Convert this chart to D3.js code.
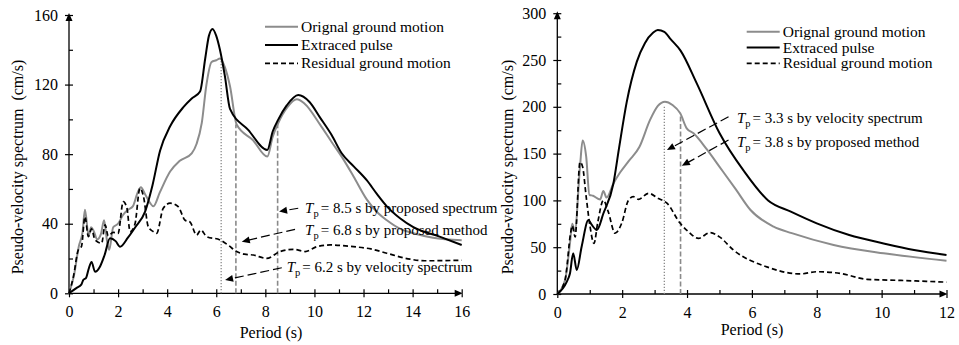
<!DOCTYPE html>
<html>
<head>
<meta charset="utf-8">
<script src="https://cdn.jsdelivr.net/npm/d3@7"></script>
</head>
<body style="margin:0">
<svg id="chart" width="959" height="345"></svg>
<script>
/************************* Data *************************/
const legendLabels = ["Orignal ground motion", "Extraced pulse", "Residual ground motion"];

// left panel: [period (s), PSV (cm/s)]
const leftOriginal = [[0,0],[0.2,10],[0.4,27],[0.55,35],[0.65,48],[0.8,33],[0.9,38],[1.0,36],[1.15,31],[1.3,34],[1.43,42],
  [1.55,30],[1.64,25],[1.8,38],[2.0,40],[2.2,45],[2.4,48],[2.6,50],[2.8,58],[2.93,61],[3.1,57],[3.3,52],[3.44,50],[3.7,58],
  [4.12,70],[4.5,76],[5.0,80.5],[5.2,86],[5.41,98],[5.6,120],[5.81,133],[6.0,134],[6.15,135],[6.35,130],[6.56,119],[6.83,97],
  [7.5,88],[8.08,78.6],[8.3,90],[8.53,98],[8.9,107],[9.28,111.5],[9.6,109],[10.23,97],[10.7,87],[11.18,77],[11.6,67],
  [12.13,54],[12.6,46],[12.95,42],[13.5,37],[14.03,34.5],[14.83,32],[16,30.5]];
const leftPulse = [[0,0],[0.3,3],[0.5,5],[0.58,7.6],[0.7,9],[0.8,14],[0.92,18],[1.06,12.4],[1.26,15.3],[1.45,22],[1.67,31.6],
  [1.9,30],[2.08,26.8],[2.4,32],[2.7,38],[3.1,47],[3.4,62],[3.71,82],[4.12,96],[4.66,107],[5.0,112],[5.34,116],[5.55,135],
  [5.7,148],[5.85,152],[6.0,148],[6.15,140],[6.35,125],[6.56,106],[7.3,94],[8.08,82.4],[8.3,93],[8.53,100],[8.87,108],
  [9.34,114],[9.8,110],[10.23,101],[10.7,91],[11.11,80.5],[11.6,73],[12.13,65],[12.55,57],[12.95,50],[13.5,43],[14.03,38],
  [15.1,32.6],[16,27.8]];
const leftResidual = [[0,0],[0.18,9.6],[0.38,25],[0.51,27],[0.65,44],[0.79,32.6],[0.92,37],[1.06,30.7],[1.33,28.8],[1.47,39.3],
  [1.6,33],[1.8,35],[2.0,34.5],[2.21,52.7],[2.36,49],[2.49,35.4],[2.69,40],[2.89,60.4],[3.03,56],[3.23,38.3],[3.44,35.4],
  [3.57,34.5],[3.84,48.9],[4.12,51.8],[4.45,49.8],[4.73,42],[4.93,41],[5.2,33.5],[5.37,36.4],[5.61,32.6],[6.15,30.7],
  [6.5,27.5],[6.83,24],[7.15,22.5],[7.51,22],[8.05,20.1],[8.6,24],[9.14,25.3],[9.62,24],[10.1,26.8],[10.64,27.8],
  [11.59,26.8],[12.3,25.5],[12.95,23],[13.9,19.6],[14.5,18.7],[16,19]];

// right panel
const rightOriginal = [[0,0],[0.24,15],[0.39,54],[0.46,75],[0.54,67],[0.7,136],[0.78,164],[0.89,147],[0.99,106],[1.1,105],
  [1.32,101],[1.42,110],[1.52,103],[1.73,118],[1.94,130],[2.2,142],[2.53,157],[2.86,186],[3.1,201],[3.32,205.5],[3.55,202],
  [3.79,193],[3.99,177],[4.2,171.7],[4.6,155],[5.02,135],[5.5,112],[5.95,90],[6.67,72],[7.23,65],[8.52,52.4],[10.06,43.5],
  [12,35.6]];
const rightPulse = [[0,0],[0.29,13],[0.39,22],[0.49,43.5],[0.6,25.6],[0.75,50.5],[0.96,79],[1.06,74],[1.22,68.4],[1.42,86],
  [1.73,118],[1.9,155],[2.14,205],[2.45,248],[2.7,268],[2.95,279],[3.1,282],[3.3,280],[3.5,272],[3.8,260],[4.3,225],
  [5.0,172],[5.74,132],[6.5,100],[7.2,88],[8.0,75.5],[9.0,63],[10.06,54],[11,47],[12,41.7]];
const rightResidual = [[0,0],[0.24,15],[0.41,65],[0.46,73],[0.55,61],[0.7,141],[0.78,136],[0.89,104],[1.01,72],[1.13,54],
  [1.25,77],[1.42,100],[1.57,88],[1.78,65],[1.99,76],[2.19,100],[2.34,104],[2.5,101],[2.81,107.6],[3.12,102],[3.38,97],
  [3.79,75.5],[4.04,66.6],[4.35,59.5],[4.71,65.5],[5.0,61],[5.43,47],[6.46,29],[7.49,21.4],[8.0,23.8],[8.73,22],
  [9.55,15.7],[10.6,14.5],[12,12.7]];

// pulse period markers: [Tp, top of line, kind]
const leftMarkers  = [[6.2, 135, "dotted"], [6.8, 97, "dashed"], [8.5, 97.5, "dashed"]];
const rightMarkers = [[3.3, 201, "dotted"], [3.8, 191, "dashed"]];

// annotation texts
const leftNotes  = ["= 8.5 s by proposed spectrum", "= 6.8 s by proposed method", "= 6.2 s by velocity spectrum"];
const rightNotes = ["= 3.3 s by velocity spectrum", "= 3.8 s by proposed method"];

// ticks
const leftXTicks  = d3.range(0, 17, 2);
const leftYTicks  = [0, 40, 80, 120, 160];
const rightXTicks = d3.range(0, 13, 2);
const rightYTicks = [0, 50, 100, 150, 200, 250, 300];

/************************* Layout *************************/
const FONT = "Liberation Serif";
const GRAY = "#8c8c8c";
const SERIES_STYLE = [
  {stroke: GRAY,   width: 2,   dash: null},
  {stroke: "#000", width: 2,   dash: null},
  {stroke: "#000", width: 1.7, dash: "5,3"}
];

const panels = [
  {
    xr: [69, 461.7], yr: [293.3, 15], xMax: 16, yMax: 160, yMinor: 20,
    xTicks: leftXTicks, yTicks: leftYTicks,
    series: [leftOriginal, leftPulse, leftResidual],
    markers: leftMarkers,
    titleX: 17, xTitleX: 271, xTitleY: 338,
    legend: {x: 265, y: 26.7, dy: 18.3},
    // text anchor (data), arrow start (data), arrow tip (data)
    notes: leftNotes.map((t, i) => ({text: t, ...[
      {tx: 9.62, ty: 46.2, ax: 9.34, ay: 48.9, bx: 8.56, by: 47},
      {tx: 9.62, ty: 33.4, ax: 9.21, ay: 36.8, bx: 7.04, by: 29.7},
      {tx: 8.87, ty: 12.3, ax: 8.67, ay: 14.7, bx: 6.36, by: 7.6}
    ][i]}))
  },
  {
    xr: [557.3, 946.5], yr: [294, 13.2], xMax: 12, yMax: 300, yMinor: 25,
    xTicks: rightXTicks, yTicks: rightYTicks,
    series: [rightOriginal, rightPulse, rightResidual],
    markers: rightMarkers,
    titleX: 507, xTitleX: 752, xTitleY: 335,
    legend: {x: 746.7, y: 31.7, dy: 15.8},
    notes: rightNotes.map((t, i) => ({text: t, ...[
      {tx: 5.54, ty: 182.4, ax: 5.28, ay: 189.4, bx: 3.38, by: 153.8},
      {tx: 5.54, ty: 157.4, ax: 5.28, ay: 164.5, bx: 3.84, by: 137}
    ][i]}))
  }
];

/************************* Drawing *************************/
const svg = d3.select("#chart");
panels.forEach(p => drawPanel(p));

/** filled triangle with its tip at (x, y), pointing along (dx, dy) */
function arrowHead(g, x, y, dx, dy, len, half) {
  const n = Math.hypot(dx, dy), ux = dx / n, uy = dy / n;
  const bx = x - ux * len, by = y - uy * len;
  g.append("path")
    .attr("d", `M${x},${y}L${bx - uy * half},${by + ux * half}L${bx + uy * half},${by - ux * half}Z`)
    .attr("fill", "#000");
}

function addText(g, x, y, size, str) {
  return g.append("text")
    .attr("x", x).attr("y", y)
    .attr("font-family", FONT).attr("font-size", size)
    .attr("fill", "#000")
    .text(str);
}

function drawPanel(p) {
  const x = d3.scaleLinear().domain([0, p.xMax]).range(p.xr);
  const y = d3.scaleLinear().domain([0, p.yMax]).range(p.yr);
  const g = svg.append("g");
  const y0 = p.yr[0], x0 = p.xr[0];

  // major ticks crossing the axes, minor ticks on the inside
  const crossX = s => d3.axisBottom(x).tickValues(p.xTicks).tickSize(s).tickFormat("");
  g.append("g").attr("transform", `translate(0,${y0})`).call(crossX(4));
  g.append("g").attr("transform", `translate(0,${y0})`).call(crossX(-4));
  g.append("g").attr("transform", `translate(0,${y0})`)
    .call(d3.axisBottom(x).tickValues(d3.range(1, p.xMax, 2)).tickSize(-4).tickFormat(""));
  g.append("g").attr("transform", `translate(0,${y0})`)
    .call(d3.axisBottom(x).tickValues(p.xTicks).tickSize(0).tickPadding(12.5));

  const crossY = s => d3.axisLeft(y).tickValues(p.yTicks).tickSize(s).tickFormat("");
  g.append("g").attr("transform", `translate(${x0},0)`).call(crossY(4));
  g.append("g").attr("transform", `translate(${x0},0)`).call(crossY(-4));
  g.append("g").attr("transform", `translate(${x0},0)`)
    .call(d3.axisLeft(y).tickValues(d3.range(p.yMinor, p.yMax, p.yMinor * 2)).tickSize(-4).tickFormat(""));
  g.append("g").attr("transform", `translate(${x0},0)`)
    .call(d3.axisLeft(y).tickValues(p.yTicks).tickSize(0).tickPadding(11));

  g.selectAll(".domain").remove();
  g.selectAll("g").attr("font-family", FONT).attr("font-size", 16);
  g.selectAll(".tick line").attr("stroke", "#000").attr("stroke-width", 1.2);
  g.selectAll(".tick text")
    .attr("font-family", FONT).attr("font-size", 16).attr("fill", "#000");

  // axis lines with arrow heads
  g.append("line").attr("x1", x0).attr("y1", y0).attr("x2", p.xr[1] - 4).attr("y2", y0)
    .attr("stroke", "#000").attr("stroke-width", 1.3);
  arrowHead(g, p.xr[1] + 1, y0, 1, 0, 8, 3.5);
  g.append("line").attr("x1", x0).attr("y1", y0).attr("x2", x0).attr("y2", p.yr[1] + 4)
    .attr("stroke", "#000").attr("stroke-width", 1.3);
  arrowHead(g, x0, p.yr[1] - 2, 0, -1, 8, 3.5);

  // axis titles
  addText(g, 0, 0, 16, "Pseudo-velocity spectrum  (cm/s)")
    .attr("transform", `translate(${p.titleX},167) rotate(-90)`)
    .attr("text-anchor", "middle").attr("dominant-baseline", "central")
    .attr("xml:space", "preserve");
  addText(g, p.xTitleX, p.xTitleY, 16, "Period (s)")
    .attr("text-anchor", "middle");

  // Tp marker lines
  g.selectAll(".marker").data(p.markers).join("line")
    .attr("x1", d => x(d[0])).attr("x2", d => x(d[0]))
    .attr("y1", y(0)).attr("y2", d => y(d[1]))
    .attr("stroke", "#8a8a8a")
    .attr("stroke-width", d => d[2] === "dotted" ? 1.3 : 1.6)
    .attr("stroke-dasharray", d => d[2] === "dotted" ? "1.2,1.8" : "5,2.5");

  // series
  const line = d3.line().x(d => x(d[0])).y(d => y(d[1])).curve(d3.curveMonotoneX);
  p.series.forEach((s, i) => {
    const st = SERIES_STYLE[i];
    g.append("path").datum(s)
      .attr("d", line)
      .attr("fill", "none")
      .attr("stroke", st.stroke)
      .attr("stroke-width", st.width)
      .attr("stroke-dasharray", st.dash)
      .attr("stroke-linejoin", "round");
  });

  // legend
  const lg = g.append("g");
  legendLabels.forEach((label, i) => {
    const st = SERIES_STYLE[i];
    const ly = p.legend.y + i * p.legend.dy;
    lg.append("line")
      .attr("x1", p.legend.x).attr("x2", p.legend.x + 33)
      .attr("y1", ly).attr("y2", ly)
      .attr("stroke", st.stroke).attr("stroke-width", st.width)
      .attr("stroke-dasharray", st.dash);
    addText(lg, p.legend.x + 36, ly + 5, 15.5, label);
  });

  // annotations
  p.notes.forEach(n => {
    const ax = x(n.ax), ay = y(n.ay), bx = x(n.bx), by = y(n.by);
    const len = Math.hypot(bx - ax, by - ay);
    const sx = bx - (bx - ax) / len * 7, sy = by - (by - ay) / len * 7;
    g.append("line")
      .attr("x1", ax).attr("y1", ay).attr("x2", sx).attr("y2", sy)
      .attr("stroke", "#000").attr("stroke-width", 1.2)
      .attr("stroke-dasharray", "9,4");
    arrowHead(g, bx, by, bx - ax, by - ay, 8, 3.5);

    const t = addText(g, x(n.tx), y(n.ty), 15, null);
    t.append("tspan").attr("font-style", "italic").text("T");
    t.append("tspan").attr("font-size", 10.5).attr("dy", 4).text("p");
    t.append("tspan").attr("dy", -4).attr("dx", 2).text(n.text);
  });
}
</script>
</body>
</html>
